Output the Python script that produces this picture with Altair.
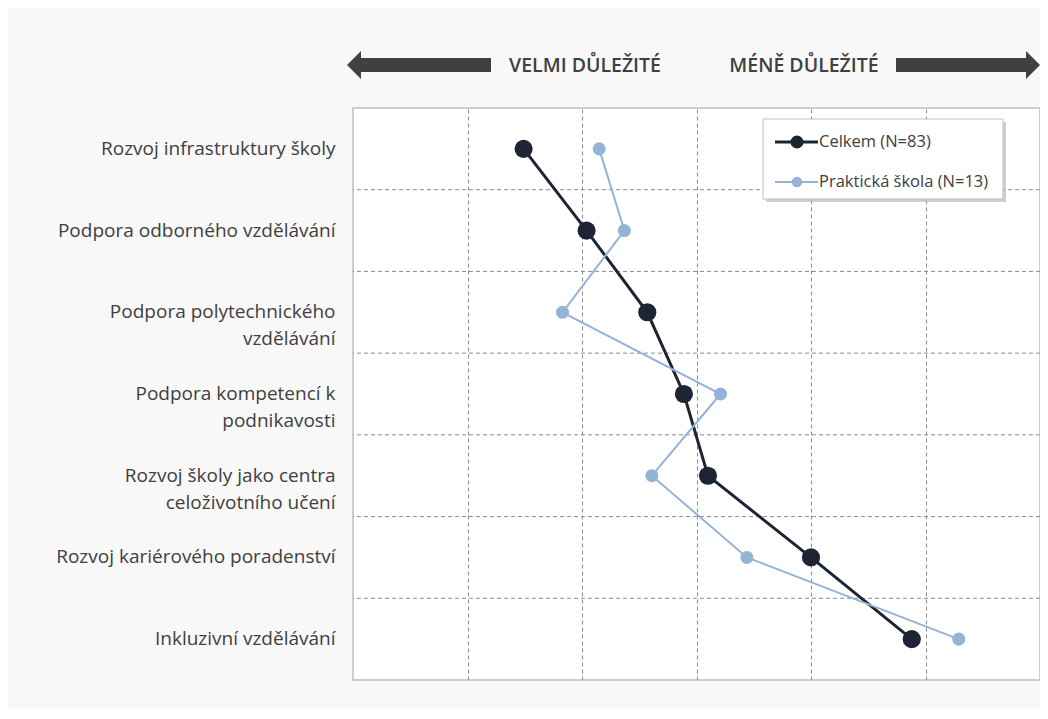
import altair as alt
import pandas as pd

categories = [
    "Rozvoj infrastruktury školy",
    "Podpora odborného vzdělávání",
    "Podpora polytechnického\nvzdělávání",
    "Podpora kompetencí k\npodnikavosti",
    "Rozvoj školy jako centra\nceloživotního učení",
    "Rozvoj kariérového poradenství",
    "Inkluzivní vzdělávání",
]
celkem = [2.49, 3.04, 3.57, 3.89, 4.10, 5.00, 5.88]
prakticka = [3.15, 3.37, 2.83, 4.21, 3.61, 4.44, 6.29]
series_names = ["Celkem (N=83)", "Praktická škola (N=13)"]
grid_x = [2, 3, 4, 5, 6]
header_left = "VELMI DŮLEŽITÉ"
header_right = "MÉNĚ DŮLEŽITÉ"

DARK = "#1d2433"
LIGHT = "#95b3d7"
TXT = "#404040"

W, H = 687, 572

df_c = pd.DataFrame({"cat": categories, "val": celkem, "idx": range(7)})
df_p = pd.DataFrame({"cat": categories, "val": prakticka, "idx": range(7)})
df_b = pd.DataFrame({"cat": categories[1:]})

yscale = alt.Scale(type="band", domain=categories, paddingInner=0, paddingOuter=0)
xscale = alt.Scale(domain=[1, 7], nice=False, zero=False)

y_axis = alt.Axis(
    title=None, ticks=False, domain=False, grid=False,
    labelExpr="split(datum.label, '\\n')",
    labelFont="Open Sans", labelFontSize=19, labelColor=TXT,
    labelPadding=18, labelLimit=400, labelLineHeight=27,
    labelAlign="right", labelBaseline="middle",
)
x_axis = alt.Axis(
    title=None, labels=False, ticks=False, domain=False, values=grid_x,
    grid=True, gridDash=[4, 3], gridColor="#8c8c8c", gridWidth=1,
)

hgrid = alt.Chart(df_b).mark_rule(
    color="#8c8c8c", strokeDash=[4, 3], strokeWidth=1
).encode(
    y=alt.Y("cat:N", scale=yscale, sort=categories, bandPosition=0, axis=y_axis),
)

line_c = alt.Chart(df_c).mark_line(color=DARK, strokeWidth=3).encode(
    x=alt.X("val:Q", scale=xscale, axis=x_axis),
    y=alt.Y("cat:N", scale=yscale, sort=categories, axis=y_axis),
    order="idx:Q",
)
pt_c = alt.Chart(df_c).mark_point(
    filled=True, color=DARK, size=330, opacity=1
).encode(
    x=alt.X("val:Q", scale=xscale, axis=x_axis),
    y=alt.Y("cat:N", scale=yscale, sort=categories, axis=y_axis),
)
line_p = alt.Chart(df_p).mark_line(color=LIGHT, strokeWidth=2).encode(
    x=alt.X("val:Q", scale=xscale, axis=x_axis),
    y=alt.Y("cat:N", scale=yscale, sort=categories, axis=y_axis),
    order="idx:Q",
)
pt_p = alt.Chart(df_p).mark_point(
    filled=True, color=LIGHT, size=170, opacity=1
).encode(
    x=alt.X("val:Q", scale=xscale, axis=x_axis),
    y=alt.Y("cat:N", scale=yscale, sort=categories, axis=y_axis),
)

one = alt.Data(values=[{}])

# header arrows and texts
arrow_y = -43
bar_l = alt.Chart(one).mark_rule(color=TXT, strokeWidth=14, strokeCap="butt").encode(
    x=alt.value(7), x2=alt.value(138), y=alt.value(arrow_y)
)
head_l = alt.Chart(one).mark_point(
    shape="M-0.5,0L0.5,-1L0.5,1Z", filled=True, color=TXT, size=784, opacity=1
).encode(x=alt.value(1), y=alt.value(arrow_y))
bar_r = alt.Chart(one).mark_rule(color=TXT, strokeWidth=14, strokeCap="butt").encode(
    x=alt.value(543), x2=alt.value(676), y=alt.value(arrow_y)
)
head_r = alt.Chart(one).mark_point(
    shape="M0.5,0L-0.5,-1L-0.5,1Z", filled=True, color=TXT, size=784, opacity=1
).encode(x=alt.value(680), y=alt.value(arrow_y))
txt_l = alt.Chart(one).mark_text(
    text=header_left, font="Open Sans", fontSize=19.5, fontWeight=600,
    color=TXT, align="center", baseline="middle"
).encode(x=alt.value(232), y=alt.value(arrow_y + 1))
txt_r = alt.Chart(one).mark_text(
    text=header_right, font="Open Sans", fontSize=19.5, fontWeight=600,
    color=TXT, align="center", baseline="middle"
).encode(x=alt.value(451), y=alt.value(arrow_y + 1))

# legend box
lx0, lx1, ly0, ly1 = 410, 650, 11, 91
shadow = alt.Chart(one).mark_rect(color="#b0b0b0", opacity=0.6).encode(
    x=alt.value(lx0 + 3), x2=alt.value(lx1 + 3), y=alt.value(ly0 + 3), y2=alt.value(ly1 + 3)
)
box = alt.Chart(one).mark_rect(fill="white", stroke="#bfbfbf", strokeWidth=1).encode(
    x=alt.value(lx0), x2=alt.value(lx1), y=alt.value(ly0), y2=alt.value(ly1)
)
leg = []
for name, col, sw, sz, yy in [(series_names[0], DARK, 3, 170, 34),
                              (series_names[1], LIGHT, 2, 110, 74)]:
    leg.append(alt.Chart(one).mark_rule(color=col, strokeWidth=sw).encode(
        x=alt.value(422), x2=alt.value(465), y=alt.value(yy)))
    leg.append(alt.Chart(one).mark_point(filled=True, color=col, size=sz, opacity=1).encode(
        x=alt.value(444), y=alt.value(yy)))
    leg.append(alt.Chart(one).mark_text(
        text=name, font="Open Sans", fontSize=16.5, color=TXT, align="left", baseline="middle"
    ).encode(x=alt.value(466), y=alt.value(yy)))

chart = alt.layer(
    hgrid, line_c, pt_c, line_p, pt_p,
    bar_l, head_l, bar_r, head_r, txt_l, txt_r,
    shadow, box, *leg,
).properties(
    width=W, height=H,
    autosize=alt.AutoSizeParams(type="none"),
    padding={"left": 345, "top": 100, "right": 0, "bottom": 28},
    background="#f8f8f8",
).configure_view(
    fill="white", stroke="#bfbfbf", strokeWidth=1.5
)

chart.save("out.html", embed_options={"renderer": "svg", "actions": False})
